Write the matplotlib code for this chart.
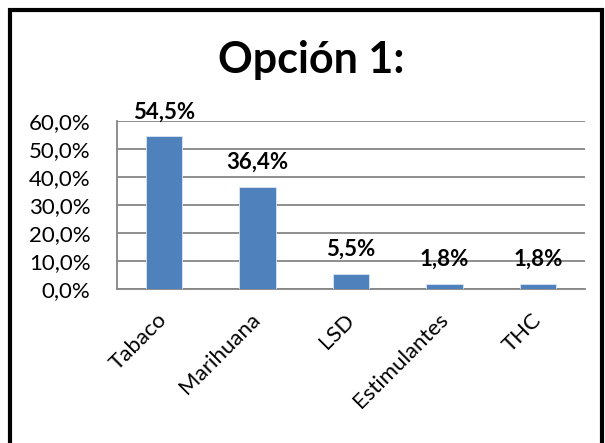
import matplotlib

matplotlib.use('Agg')
import matplotlib.pyplot as plt
from matplotlib.patches import Rectangle

categories = ['Tabaco', 'Marihuana', 'LSD', 'Estimulantes', 'THC']
values = [54.5, 36.4, 5.5, 1.8, 1.8]
value_labels = ['54,5%', '36,4%', '5,5%', '1,8%', '1,8%']
yticks = [0, 10, 20, 30, 40, 50, 60]
ytick_labels = ['0,0%', '10,0%', '20,0%', '30,0%', '40,0%', '50,0%', '60,0%']

plt.rcParams['font.family'] = ['Lato', 'DejaVu Sans']

fig = plt.figure(figsize=(6.05, 4.43), dpi=100)
W, H = 605, 443

# black frame around the chart
fig.patches.append(Rectangle((10 / W, -0.05), 592 / W, 1 - 10 / H + 0.05,
                             transform=fig.transFigure, fill=False,
                             edgecolor='black', linewidth=3))

ax = fig.add_axes([117 / W, 1 - 289 / H, 468 / W, 168 / H])
x = range(len(categories))
ax.bar(x, values, width=0.39, color='#4F81BD', edgecolor='#DCE6F2',
       linewidth=0.6, zorder=3)

for xi, v, lab in zip(x, values, value_labels):
    ax.annotate(lab, (xi, v), xytext=(0, 10), textcoords='offset points',
                ha='center', va='bottom', fontsize=16, fontweight='bold')

ax.set_xlim(-0.5, len(categories) - 0.5)
ax.set_ylim(0, 60)
ax.set_yticks(yticks)
ax.set_yticklabels(ytick_labels, fontsize=16)
ax.yaxis.grid(True, color='#868686', linewidth=1.3, zorder=0)
ax.tick_params(axis='y', length=0, pad=19)
ax.set_xticks(list(x))
ax.set_xticklabels(categories, fontsize=16, rotation=45, ha='right',
                   va='center', rotation_mode='anchor')
ax.tick_params(axis='x', length=0, pad=20)

for side in ['top', 'right']:
    ax.spines[side].set_visible(False)
for side in ['left', 'bottom']:
    ax.spines[side].set_color('#868686')
    ax.spines[side].set_linewidth(1.3)

fig.text(311 / W, 1 - 60 / H, 'Opción 1:', ha='center', va='center',
         fontsize=31, fontweight='bold')

fig.savefig('out.png', dpi=100)
